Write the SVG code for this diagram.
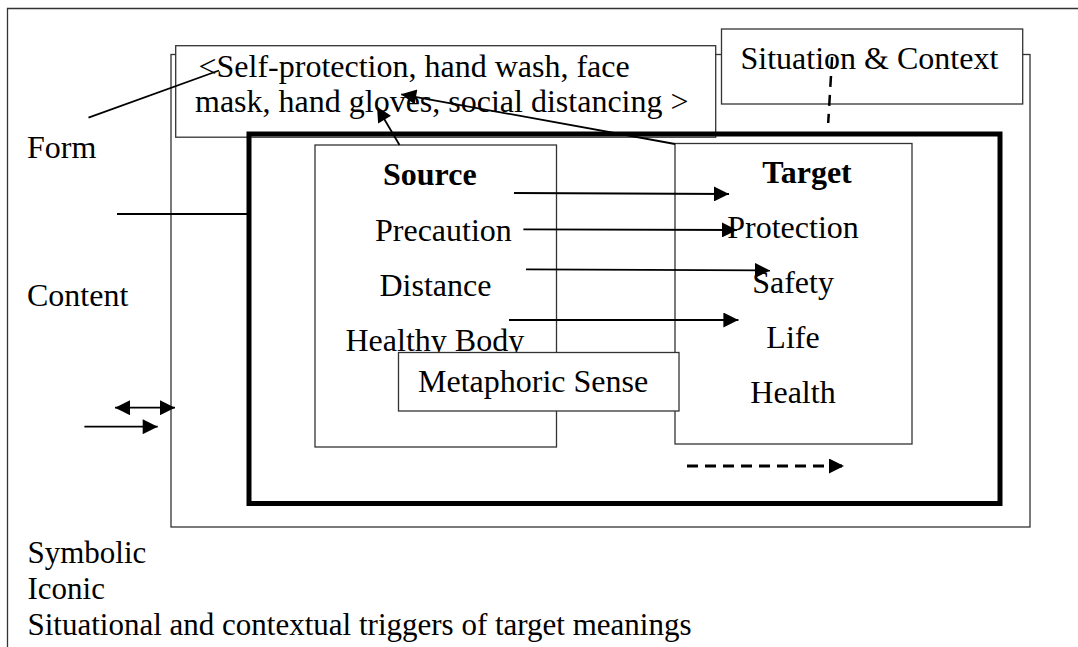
<svg xmlns="http://www.w3.org/2000/svg" width="1078" height="647" viewBox="0 0 1078 647">
  <style>
    .box { fill: #ffffff; stroke: #333333; stroke-width: 1.3; }
    .frame { fill: none; stroke: #333333; stroke-width: 1.3; }
    .thick { fill: none; stroke: #000000; stroke-width: 5; }
    .conn { fill: none; stroke: #000000; stroke-width: 1.8; }
    .t { font-family: "Liberation Serif", "Times New Roman", serif; font-size: 32px; fill: #000000; }
    .b { font-weight: bold; }
    .small { font-size: 31px; }
  </style>
  <defs>
    <marker id="head" viewBox="0 0 16 16" refX="16" refY="8" markerWidth="16" markerHeight="15" markerUnits="userSpaceOnUse" orient="auto-start-reverse">
      <path d="M0,0 L16,8 L0,16 Z" fill="#000000"/>
    </marker>
  </defs>

  <rect width="1078" height="647" fill="#ffffff"/>

  <!-- outer page frame (open to the right and bottom) -->
  <path class="frame" d="M7.5,647 V8.5 H1078"/>

  <!-- form/content panel -->
  <rect id="panel" class="frame" x="171" y="54.5" width="859" height="472.5"/>

  <g id="form-box">
    <rect class="box" x="175.7" y="45.7" width="540" height="91.5"/>
    <text class="t" x="198.5" y="77">&lt;Self-protection, hand wash, face</text>
    <text class="t" x="195" y="112">mask, hand gloves, social distancing &gt;</text>
  </g>

  <g id="situation-box">
    <rect class="box" x="721.5" y="29" width="301.2" height="75"/>
    <text class="t" x="740.5" y="69">Situation &amp; Context</text>
  </g>

  <!-- metaphor frame -->
  <rect id="metaphor-frame" class="thick" x="249" y="134" width="751" height="369.5"/>

  <g id="source">
    <rect class="frame" x="315" y="145" width="241.5" height="302"/>
    <text class="t b" x="383" y="185">Source</text>
    <text class="t" x="375" y="241">Precaution</text>
    <text class="t" x="379.5" y="296">Distance</text>
    <text class="t" x="345.5" y="350.7">Healthy Body</text>
  </g>

  <g id="target">
    <rect class="frame" x="675" y="143.5" width="237" height="300.5"/>
    <text class="t b" x="807" y="182.7" text-anchor="middle">Target</text>
    <text class="t" x="793" y="238.3" text-anchor="middle">Protection</text>
    <text class="t" x="793" y="293.3" text-anchor="middle">Safety</text>
    <text class="t" x="793" y="348.3" text-anchor="middle">Life</text>
    <text class="t" x="793" y="403.3" text-anchor="middle">Health</text>
  </g>

  <g id="metaphoric-sense">
    <rect class="box" x="398.5" y="352.5" width="280.5" height="58.5"/>
    <text class="t" x="418" y="392">Metaphoric Sense</text>
  </g>

  <g id="labels">
    <text class="t" x="27" y="158">Form</text>
    <text class="t" x="27" y="306">Content</text>
    <text class="t small" x="27.5" y="563">Symbolic</text>
    <text class="t small" x="27.5" y="599">Iconic</text>
    <text class="t small" x="27.5" y="635">Situational and contextual triggers of target meanings</text>
  </g>

  <g id="connectors">
    <!-- Form pointer and Content pointer -->
    <line class="conn" x1="88.5" y1="117.7" x2="219" y2="70.5"/>
    <line class="conn" x1="117" y1="214" x2="249" y2="214"/>

    <!-- legend arrows -->
    <line class="conn" x1="115" y1="407.7" x2="175" y2="407.7" marker-start="url(#head)" marker-end="url(#head)"/>
    <line class="conn" x1="84.4" y1="426.7" x2="157.7" y2="426.7" marker-end="url(#head)"/>

    <!-- source to target mappings -->
    <line class="conn" x1="514" y1="193" x2="729" y2="194" marker-end="url(#head)"/>
    <line class="conn" x1="523.4" y1="229.3" x2="737" y2="230" marker-end="url(#head)"/>
    <line class="conn" x1="526" y1="269.3" x2="770" y2="270.5" marker-end="url(#head)"/>
    <line class="conn" x1="509" y1="320" x2="738.4" y2="320" marker-end="url(#head)"/>

    <!-- links up to the form box -->
    <line class="conn" x1="675" y1="144" x2="401.2" y2="94.3" marker-end="url(#head)"/>
    <line class="conn" x1="399.5" y1="145" x2="377" y2="106.7" marker-end="url(#head)"/>

    <!-- situation and context triggers -->
    <line x1="832.1" y1="57" x2="828.2" y2="123" stroke="#000000" stroke-width="2.5" stroke-dasharray="11 8"/>
    <line x1="687" y1="466" x2="844" y2="466" stroke="#000000" stroke-width="3" stroke-dasharray="11 7" marker-end="url(#head)"/>
  </g>
</svg>
